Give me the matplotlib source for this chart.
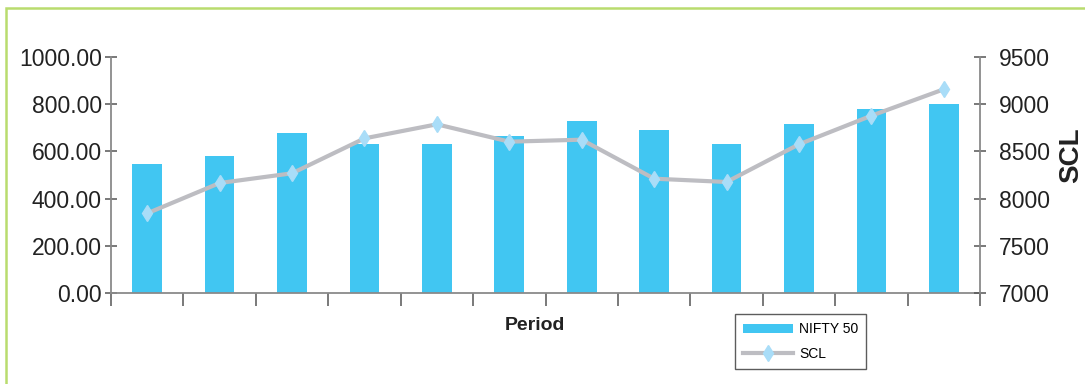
import matplotlib.pyplot as plt
import numpy as np
from matplotlib.patches import Rectangle

plt.rcParams['font.family'] = ['Liberation Sans', 'DejaVu Sans']

# monthly values
nifty = [545, 580, 678, 631, 631, 665, 729, 691, 631, 716, 780, 801]
scl = [7844, 8165, 8268, 8638, 8787, 8603, 8624, 8211, 8176, 8575, 8878, 9158]

bar_color = '#41c6f2'
line_color = '#bdbdc2'
marker_color = '#a9ddf8'
axis_color = '#8a8a8a'

fig = plt.figure(figsize=(10.85, 3.84), dpi=100)
ax = fig.add_axes([111/1085, 91/384, 869/1085, 236/384])
ax2 = ax.twinx()

x = np.arange(len(nifty))
bars = ax.bar(x, nifty, width=0.41, color=bar_color, zorder=2)
line, = ax2.plot(x, scl, color=line_color, lw=3, marker='d', ms=8,
                 mfc=marker_color, mec=marker_color, zorder=3)

ax.set_xlim(-0.5, len(nifty) - 0.5)
ax.set_ylim(0, 1000)
ax.set_yticks(np.arange(0, 1001, 200))
ax.set_yticklabels([f'{v:.2f}' for v in np.arange(0, 1001, 200)])
ax2.set_ylim(7000, 9500)
ax2.set_yticks(np.arange(7000, 9501, 500))

ax.set_xticks(np.arange(-0.5, len(nifty) + 0.5, 1))
ax.set_xticklabels([])

for a in (ax, ax2):
    a.spines['top'].set_visible(False)
    for s in ('left', 'right', 'bottom'):
        a.spines[s].set_color(axis_color)
        a.spines[s].set_linewidth(1.3)
    a.tick_params(axis='y', labelsize=16.5, direction='inout', length=9,
                  width=1.1, color='#555555', labelcolor='#222222')
ax.tick_params(axis='y', pad=2)
ax2.tick_params(axis='y', pad=9)
ax.tick_params(axis='x', direction='out', length=9, width=1.1, color='#555555')
ax2.spines['left'].set_visible(False)
ax.spines['right'].set_visible(False)
ax2.spines['bottom'].set_visible(False)

ax.set_zorder(ax2.get_zorder() - 1)
ax2.patch.set_visible(False)

ax.set_xlabel('Period', fontsize=14, fontweight='bold', color='#222222')
ax.xaxis.set_label_coords(0.488, -0.10)
ax2.set_ylabel('SCL', fontsize=20, fontweight='bold', color='#222222')
ax2.yaxis.set_label_coords(1.09, 0.585)

leg = fig.legend([bars, line], ['NIFTY 50', 'SCL'], loc='upper left',
                 bbox_to_anchor=(735/1085, 1 - 314/384), frameon=True,
                 fancybox=False, edgecolor='#333333', handlelength=3.6,
                 handletextpad=0.4, borderpad=0.6, labelspacing=0.75,
                 borderaxespad=0, prop={'size': 10})
leg.get_frame().set_linewidth(1.0)

# light green frame around the figure
fig.patches.append(Rectangle((6/1085, -0.1), 1.2, 1 - 8/384 + 0.1,
                             transform=fig.transFigure, fill=False,
                             edgecolor='#b9dc6e', lw=1.8))

fig.savefig('out.png', dpi=100)
